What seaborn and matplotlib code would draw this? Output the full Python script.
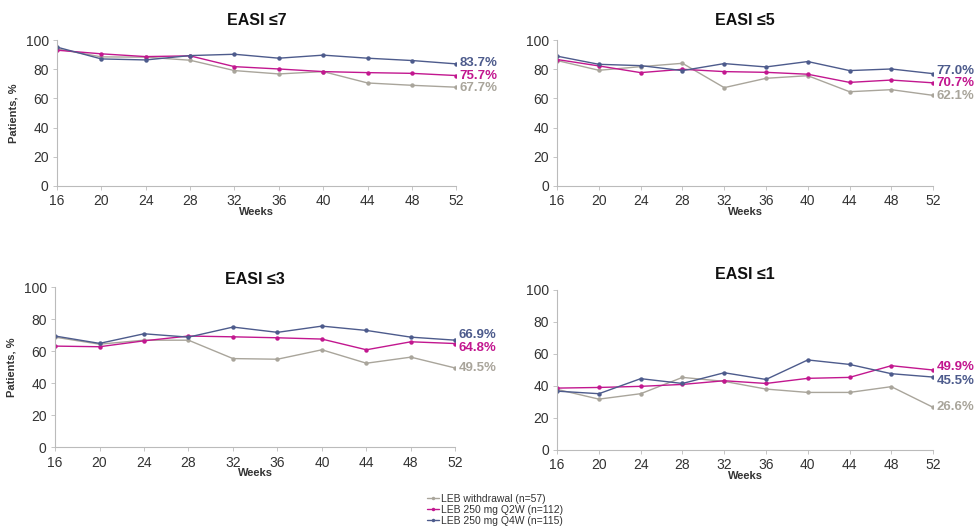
import numpy as np
import pandas as pd
import matplotlib
matplotlib.use("Agg")
import matplotlib.pyplot as plt
import seaborn as sns

# Data
weeks = [16, 20, 24, 28, 32, 36, 40, 44, 48, 52]
groups = ["LEB withdrawal (n=57)", "LEB 250 mg Q2W (n=112)", "LEB 250 mg Q4W (n=115)"]
panel_titles = ["EASI ≤7", "EASI ≤5", "EASI ≤3", "EASI ≤1"]

easi7_withdrawal = [94.0, 88.5, 88.3, 86.2, 79.1, 76.8, 78.4, 70.6, 69.0, 67.7]
easi7_q2w = [93.1, 90.6, 88.7, 89.2, 81.8, 80.2, 78.4, 77.7, 77.2, 75.7]
easi7_q4w = [95.2, 87.1, 86.4, 89.4, 90.3, 87.6, 89.7, 87.6, 86.0, 83.7]

easi5_withdrawal = [86.0, 79.3, 81.8, 84.1, 67.4, 73.8, 75.6, 64.6, 66.0, 62.1]
easi5_q2w = [86.7, 82.3, 77.7, 80.0, 78.4, 77.9, 76.6, 71.0, 72.6, 70.7]
easi5_q4w = [89.0, 83.4, 82.5, 79.1, 83.9, 81.6, 85.3, 79.1, 80.2, 77.0]

easi3_withdrawal = [68.8, 64.4, 66.9, 66.9, 55.4, 55.0, 60.9, 52.5, 56.3, 49.5]
easi3_q2w = [63.2, 62.8, 66.5, 69.5, 69.0, 68.4, 67.6, 60.9, 65.9, 64.8]
easi3_q4w = [69.5, 64.9, 70.9, 68.8, 75.1, 71.8, 75.7, 73.0, 68.8, 66.9]

easi1_withdrawal = [37.8, 31.7, 35.1, 45.3, 42.8, 38.0, 35.9, 35.9, 39.5, 26.6]
easi1_q2w = [38.6, 39.0, 39.7, 40.9, 43.2, 41.5, 44.7, 45.3, 52.6, 49.9]
easi1_q4w = [36.7, 35.1, 44.5, 41.5, 48.2, 44.0, 56.2, 53.4, 47.6, 45.5]

panel_data = [
    [easi7_withdrawal, easi7_q2w, easi7_q4w],
    [easi5_withdrawal, easi5_q2w, easi5_q4w],
    [easi3_withdrawal, easi3_q2w, easi3_q4w],
    [easi1_withdrawal, easi1_q2w, easi1_q4w],
]

colors = ["#a9a59b", "#c2178f", "#4d5b8c"]
palette = dict(zip(groups, colors))

sns.set_theme(style="white")
plt.rcParams["font.family"] = ["Liberation Sans", "DejaVu Sans"]

fig = plt.figure(figsize=(9.74, 5.28), dpi=100)

# axes positions [left, bottom, width, height]
positions = [
    [0.0585, 0.648, 0.410, 0.276],
    [0.572, 0.648, 0.386, 0.276],
    [0.0565, 0.153, 0.411, 0.303],
    [0.572, 0.148, 0.386, 0.303],
]
title_pads = [11, 11, 2, 8]
ylabel_panels = [0, 2]
# vertical nudges (points) for end labels: withdrawal, Q2W, Q4W
label_nudges = [[-0.5, 0, 0.5], [-0.5, 0, 2], [0, -3.5, 3.5], [0, 2.5, -2.5]]

for i, pos in enumerate(positions):
    ax = fig.add_axes(pos)
    rows = []
    for g, vals in zip(groups, panel_data[i]):
        for w, v in zip(weeks, vals):
            rows.append({"Weeks": w, "value": v, "group": g})
    df = pd.DataFrame(rows)
    sns.lineplot(data=df, x="Weeks", y="value", hue="group", hue_order=groups,
                 palette=palette, marker="o", markersize=3.2, markeredgewidth=0,
                 linewidth=1.0, ax=ax, legend=False)
    ax.set_xlim(16, 52)
    ax.set_ylim(0, 100)
    ax.set_xticks(weeks)
    ax.set_yticks(range(0, 101, 20))
    ax.tick_params(axis="both", labelsize=10, labelcolor="#333333", length=3,
                   width=0.6, pad=3, bottom=True, left=True, color="#bbbbbb")
    for s in ["top", "right"]:
        ax.spines[s].set_visible(False)
    for s in ["left", "bottom"]:
        ax.spines[s].set_color("#bbbbbb")
        ax.spines[s].set_linewidth(0.8)
    ax.set_xlabel("Weeks", fontsize=8, fontweight="bold", labelpad=-1, color="#333333")
    if i in ylabel_panels:
        ax.set_ylabel("Patients, %", fontsize=8, fontweight="bold", labelpad=5, color="#333333")
    else:
        ax.set_ylabel("")
    ax.set_title(panel_titles[i], fontsize=11.5, fontweight="bold", pad=title_pads[i],
                 color="#111111")

    # end-of-line value labels
    for g, vals, c, dy in zip(groups, panel_data[i], colors, label_nudges[i]):
        ax.annotate(f"{vals[-1]:.1f}%", xy=(weeks[-1], vals[-1]), xytext=(2.5, dy),
                    textcoords="offset points", va="center", ha="left",
                    fontsize=9.5, fontweight="bold", color=c, annotation_clip=False,
                    family=["Liberation Sans Narrow", "Liberation Sans", "DejaVu Sans"])

# shared legend at the bottom
handles = [plt.Line2D([], [], color=c, marker="o", markersize=2.5, linewidth=1.0,
                      markeredgewidth=0) for c in colors]
fig.legend(handles, groups, loc="center", bbox_to_anchor=(0.508, 0.034), frameon=False,
           fontsize=7.5, handlelength=1.2, handletextpad=0.1, labelspacing=0.1,
           borderpad=0, labelcolor="#333333")

fig.savefig("out.png", dpi=100)
